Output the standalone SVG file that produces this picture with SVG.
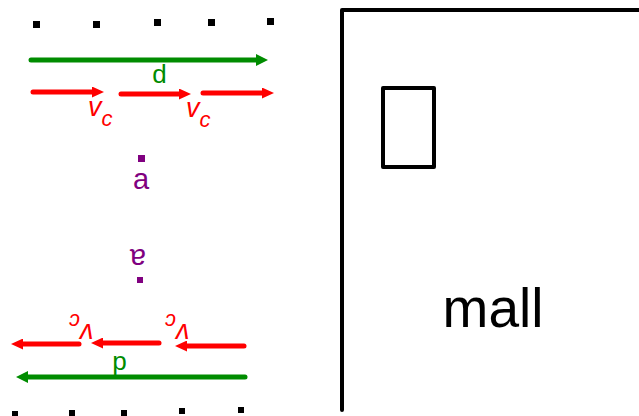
<svg xmlns="http://www.w3.org/2000/svg" width="639" height="416" viewBox="0 0 639 416">
<style>
.dot{fill:#000}
.pdot{fill:#800080}
.g{stroke:#008c00;stroke-width:5;stroke-linecap:round;fill:none}
.r{stroke:#ff0000;stroke-width:5;stroke-linecap:round;fill:none}
.lbl{font-family:"Liberation Sans",Arial,sans-serif}
.vt{font-family:"Liberation Sans",Arial,sans-serif;font-style:italic;fill:#ff0000}
.wall{stroke:#000;stroke-width:4;fill:none;stroke-linecap:round;stroke-linejoin:round}
</style>
<defs>
<marker id="ag" viewBox="0 0 12 12" refX="0" refY="6" markerWidth="12" markerHeight="12" markerUnits="userSpaceOnUse" orient="auto"><path d="M0,0 L12,6 L0,12 Z" fill="#008c00"/></marker>
<marker id="ar" viewBox="0 0 12 11" refX="0" refY="5.5" markerWidth="12" markerHeight="11" markerUnits="userSpaceOnUse" orient="auto"><path d="M0,0 L12,5.5 L0,11 Z" fill="#ff0000"/></marker>
</defs>
<rect width="639" height="416" fill="#fff"/>
<g id="top-dots">
<rect class="dot" x="33" y="21" width="7" height="7"/>
<rect class="dot" x="93" y="21" width="7" height="7"/>
<rect class="dot" x="154" y="19" width="7" height="7"/>
<rect class="dot" x="208" y="19" width="7" height="7"/>
<rect class="dot" x="267" y="18" width="7" height="7"/>
</g>
<g id="bottom-dots">
<rect class="dot" x="12" y="411" width="6" height="6"/>
<rect class="dot" x="69" y="410" width="6" height="6"/>
<rect class="dot" x="121" y="410" width="6" height="6"/>
<rect class="dot" x="179" y="408" width="6" height="6"/>
<rect class="dot" x="238" y="407" width="6" height="6"/>
</g>
<g id="connectors">
<line class="g" x1="31" y1="60" x2="256" y2="60" marker-end="url(#ag)"/>
<line class="r" x1="33" y1="92" x2="92" y2="92" marker-end="url(#ar)"/>
<line class="r" x1="121" y1="94" x2="179" y2="94" marker-end="url(#ar)"/>
<line class="r" x1="203" y1="93" x2="262" y2="93" marker-end="url(#ar)"/>
<line class="r" x1="79" y1="344" x2="23" y2="344" marker-end="url(#ar)"/>
<line class="r" x1="159" y1="343" x2="103" y2="343" marker-end="url(#ar)"/>
<line class="r" x1="244" y1="346" x2="187" y2="346" marker-end="url(#ar)"/>
<line class="g" x1="245" y1="377" x2="28" y2="377" marker-end="url(#ag)"/>
</g>
<g id="label-d-top"><text class="lbl" x="159.5" y="82.5" font-size="26" fill="#008c00" text-anchor="middle">d</text></g>
<g id="label-d-bottom" transform="rotate(180 119.5 365)"><text class="lbl" x="119.5" y="374" font-size="26" fill="#008c00" text-anchor="middle">d</text></g>
<g id="label-vc-1"><text class="vt" x="88" y="116" font-size="27">v</text><text class="vt" x="101.5" y="125.5" font-size="22">c</text></g>
<g id="label-vc-2"><text class="vt" x="186" y="117" font-size="27">v</text><text class="vt" x="199.5" y="126.5" font-size="22">c</text></g>
<g id="label-vc-3" transform="rotate(180 81 325.5)"><text class="vt" x="68.5" y="327.5" font-size="27">v</text><text class="vt" x="82" y="337" font-size="22">c</text></g>
<g id="label-vc-4" transform="rotate(180 177 325.5)"><text class="vt" x="164.5" y="327.5" font-size="27">v</text><text class="vt" x="178" y="337" font-size="22">c</text></g>
<g id="point-a-top">
<rect class="pdot" x="138" y="155" width="7" height="7"/>
<text class="lbl" x="141" y="189" font-size="29" fill="#800080" text-anchor="middle">a</text>
</g>
<g id="point-a-bottom">
<rect class="pdot" x="137" y="277" width="6" height="6"/>
<g transform="rotate(180 138 257)"><text class="lbl" x="138" y="265" font-size="29" fill="#800080" text-anchor="middle">a</text></g>
</g>
<g id="mall">
<polyline class="wall" points="342,410 342,10 641,10"/>
<rect class="wall" x="383" y="88" width="51" height="79"/>
<text class="lbl" x="493" y="327" font-size="55" fill="#000" text-anchor="middle">mall</text>
</g>
</svg>
